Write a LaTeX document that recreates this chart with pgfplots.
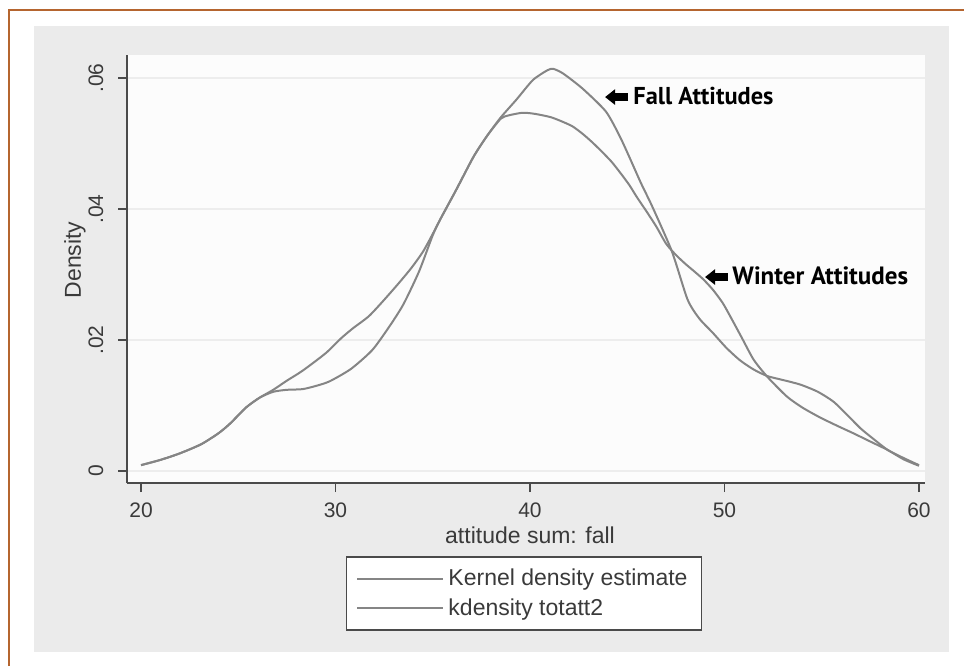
\documentclass[border=0pt]{standalone}
\usepackage{pgfplots}
\pgfplotsset{compat=1.18}
\usepackage{fontspec}
\setmainfont{Liberation Sans}
\newfontfamily\annfont{PT Sans}
\usetikzlibrary{arrows.meta}

\definecolor{framebrown}{HTML}{B5652F}
\definecolor{panel}{HTML}{EBEBEB}
\definecolor{curve}{HTML}{858585}
\definecolor{axisgray}{HTML}{4A4A4A}
\definecolor{txt}{HTML}{3A3A3A}

% fall attitudes (first kdensity)
\pgfplotstableread{
x y
20 0.0009
21 0.0017
22 0.0027
23.1 0.0041
24 0.0058
24.6 0.0073
25.4 0.0097
26.1 0.0112
26.8 0.0121
27.5 0.0124
28.3 0.0125
29.0 0.0130
29.7 0.0137
30.8 0.0156
31.9 0.0185
32.8 0.0222
33.5 0.0255
34.3 0.0305
35.0 0.0360
35.4 0.0385
36.2 0.0429
37.1 0.0480
37.8 0.0512
38.5 0.0540
39.3 0.0567
40.15 0.0597
40.9 0.0612
41.2 0.0614
41.7 0.0607
42.7 0.0584
43.9 0.0549
44.6 0.0512
45.1 0.0480
45.7 0.0440
46.3 0.0403
47.3 0.0335
48.1 0.0262
48.7 0.0233
49.4 0.0211
50.1 0.0188
50.8 0.0169
51.5 0.0155
52.2 0.0145
53.0 0.0139
53.9 0.0132
54.8 0.0121
55.6 0.0106
56.3 0.0086
57.0 0.0065
57.7 0.0048
58.4 0.0032
59.2 0.0020
60 0.0009
}\fall

% winter attitudes (kdensity totatt2)
\pgfplotstableread{
x y
20 0.0009
21 0.0017
22 0.0027
23.1 0.0041
24 0.0058
24.6 0.0073
25.4 0.0097
26.1 0.0112
26.8 0.0124
27.5 0.0138
28.3 0.0153
29.5 0.0180
30.3 0.0203
30.9 0.0218
31.7 0.0236
32.4 0.0258
33.2 0.0285
33.9 0.0310
34.5 0.0335
35.0 0.0362
35.4 0.0385
36.2 0.0429
37.1 0.0480
37.8 0.0512
38.5 0.0538
38.9 0.0543
39.6 0.0547
40.1 0.0546
40.5 0.0544
41.1 0.0540
41.7 0.0533
42.2 0.0526
42.7 0.0515
43.2 0.0502
43.75 0.0486
44.2 0.0472
44.6 0.0457
45.1 0.0437
45.5 0.0418
46.0 0.0396
46.5 0.0373
47.0 0.0347
47.5 0.0330
48.0 0.0316
48.4 0.0306
48.9 0.0293
49.4 0.0277
49.9 0.0257
50.3 0.0236
50.9 0.0203
51.5 0.0170
52.2 0.0144
53.2 0.0114
54.0 0.0097
54.9 0.0082
55.8 0.0069
56.6 0.0058
57.5 0.0045
58.4 0.0032
59.2 0.0018
60 0.0008
}\winter

\begin{document}
\begin{tikzpicture}
% page in pixel units of the reference (1px = 0.5pt)
\begin{scope}[x=0.5pt,y=-0.5pt]
\useasboundingbox (0,0) rectangle (964,666);
\fill[white] (0,0) rectangle (964,666);
\fill[panel] (34,26) rectangle (949,652);
\draw[framebrown, line width=1.2pt] (9,666) -- (9,10) -- (964,10);
\end{scope}

\begin{axis}[
  at={(63.5pt,-241.5pt)}, anchor=south west,
  scale only axis, width=399pt, height=214pt,
  xmin=19.28, xmax=60.31, ymin=-0.00183, ymax=0.06352,
  axis x line*=bottom, axis y line*=left,
  axis line style={axisgray, line width=0.8pt},
  axis background/.style={fill=white!99!black},
  xtick={20,30,40,50,60},
  ytick={0,0.02,0.04,0.06},
  yticklabels={0,.02,.04,.06},
  scaled y ticks=false,
  tick align=outside,
  major tick length=4.5pt,
  tick style={axisgray, line width=0.8pt},
  ymajorgrids, grid style={black!7, line width=0.6pt},
  /pgf/number format/assume math mode=true,
  ticklabel style={font=\fontsize{10.5}{12}\selectfont, text=txt},
  xticklabel style={anchor=center},
  xticklabel shift=9pt,
  yticklabel style={rotate=90, anchor=center},
  yticklabel shift=11pt,
  xlabel={attitude sum: fall},
  ylabel={Density},
  label style={font=\fontsize{11.5}{13}\selectfont, text=txt},
  xlabel style={at={(axis description cs:0.505,0)}, anchor=center, yshift=-26pt},
  ylabel style={at={(axis description cs:-0.0652,0.521)}, anchor=center},
  legend style={at={(axis description cs:0.4975,-0.1706)}, anchor=north,
    draw=axisgray, line width=0.8pt, fill=white,
    font=\fontsize{11.5}{13}\selectfont, text=txt,
    inner xsep=5pt, inner ysep=4pt, row sep=1pt},
  legend cell align=left,
  legend image code/.code={\draw[#1] (0pt,0pt) -- (43pt,0pt);},
]
\addplot[curve, line width=1pt, smooth, tension=0.4] table {\fall};
\addlegendentry{Kernel density estimate}
\addplot[curve, line width=1pt, smooth, tension=0.4] table {\winter};
\addlegendentry{kdensity totatt2}

\draw[black, line width=4.3pt, -{Triangle[length=5pt, width=7.5pt]}]
  (axis cs:45.04,0.0571) -- (axis cs:43.86,0.0571);
\node[anchor=west, inner sep=0pt, font=\annfont\bfseries\fontsize{12.2}{14}\selectfont]
  at (axis cs:45.30,0.0573) {Fall Attitudes};
\draw[black, line width=4.3pt, -{Triangle[length=5pt, width=7.5pt]}]
  (axis cs:50.18,0.02962) -- (axis cs:49.0,0.02962);
\node[anchor=west, inner sep=0pt, font=\annfont\bfseries\fontsize{12.5}{14}\selectfont]
  at (axis cs:50.39,0.0298) {Winter Attitudes};
\end{axis}
\end{tikzpicture}
\end{document}
